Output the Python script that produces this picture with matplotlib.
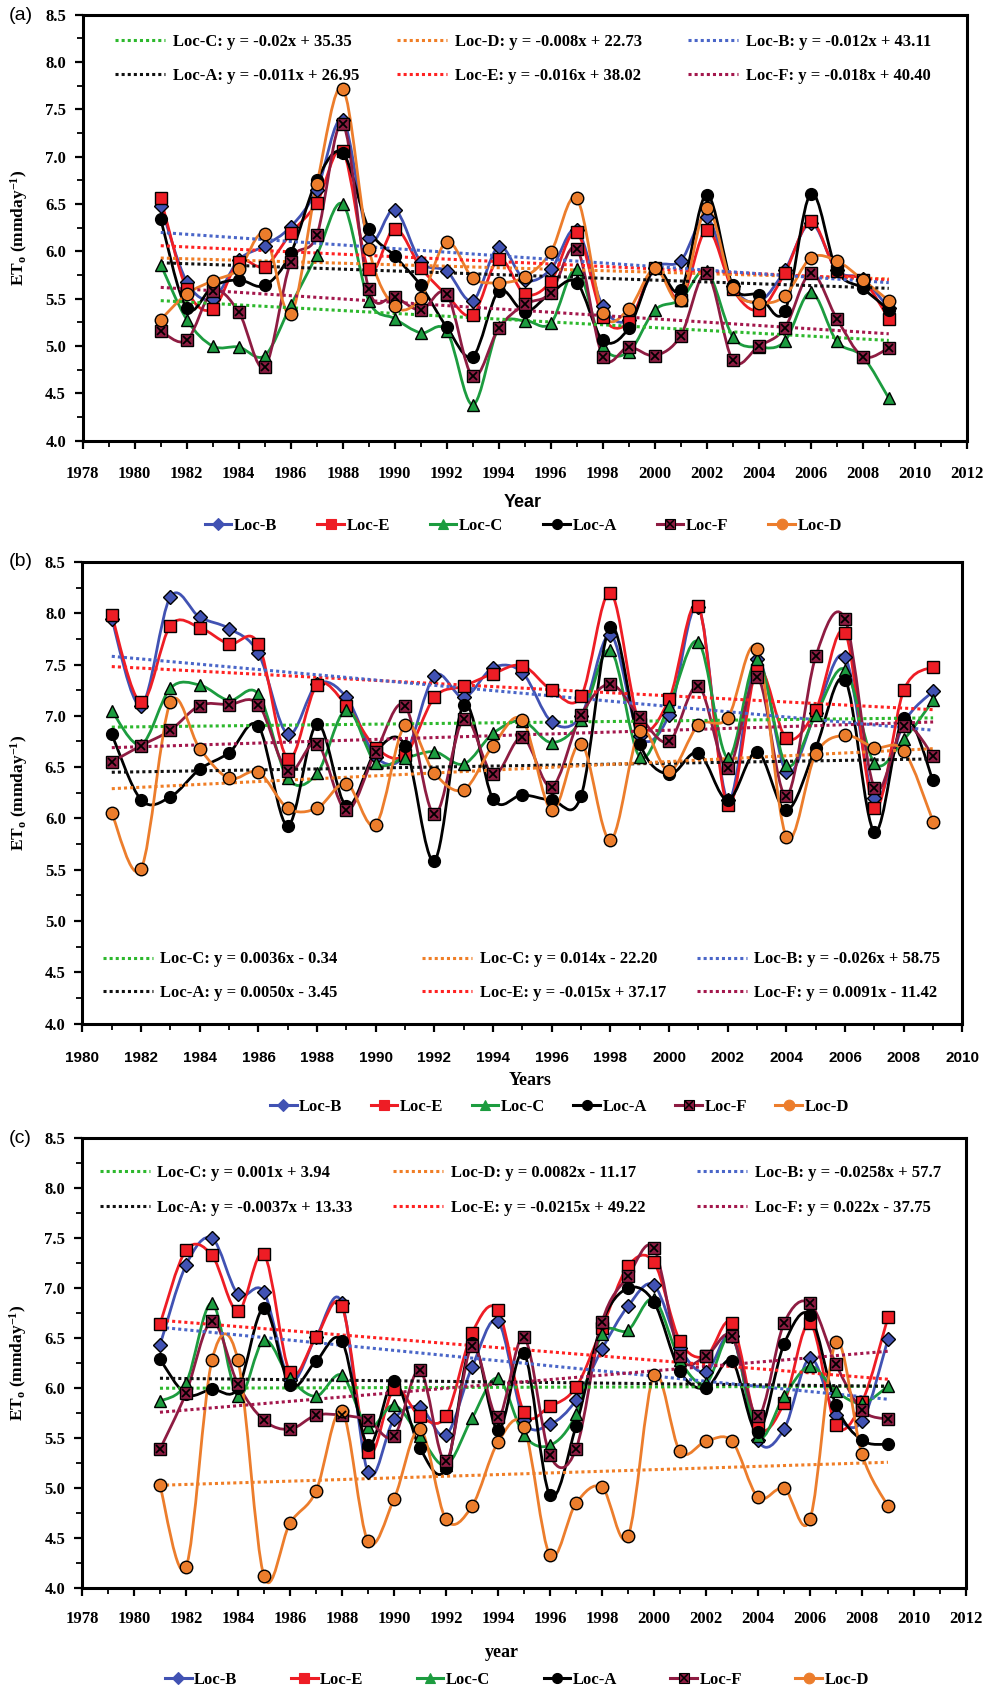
import numpy as np
import matplotlib
matplotlib.use('Agg')
import matplotlib.pyplot as plt
from matplotlib.path import Path
from matplotlib.patches import PathPatch
from matplotlib.lines import Line2D
from matplotlib.ticker import MultipleLocator, FormatStrFormatter

plt.rcParams['font.family'] = ['Liberation Serif', 'DejaVu Serif']
plt.rcParams['font.weight'] = 'bold'
plt.rcParams['axes.labelweight'] = 'bold'
plt.rcParams['mathtext.fontset'] = 'custom'
plt.rcParams['mathtext.rm'] = 'Liberation Serif:bold'
plt.rcParams['mathtext.it'] = 'Liberation Serif:bold'
plt.rcParams['mathtext.bf'] = 'Liberation Serif:bold'

years = list(range(1981, 2010))
locs = ['Loc-B', 'Loc-E', 'Loc-C', 'Loc-A', 'Loc-F', 'Loc-D']

# ---- panel (a) ----
a_B = [6.48, 5.68, 5.50, 5.91, 6.06, 6.26, 6.65, 7.39, 6.14, 6.44, 5.89, 5.79, 5.48, 6.05, 5.70,
       5.81, 6.23, 5.42, 5.28, 5.82, 5.90, 6.36, 5.63, 5.47, 5.80, 6.30, 5.80, 5.71, 5.40]
a_E = [6.56, 5.60, 5.39, 5.89, 5.84, 6.19, 6.51, 7.06, 5.81, 6.24, 5.83, 5.54, 5.33, 5.92, 5.55,
       5.68, 6.20, 5.31, 5.25, 5.82, 5.49, 6.23, 5.60, 5.38, 5.77, 6.32, 5.79, 5.70, 5.29]
a_C = [5.86, 5.28, 5.00, 4.99, 4.90, 5.43, 5.96, 6.50, 5.48, 5.29, 5.14, 5.16, 4.38, 5.20, 5.27,
       5.24, 5.81, 5.00, 4.94, 5.38, 5.49, 5.79, 5.10, 4.99, 5.05, 5.57, 5.05, 4.89, 4.45]
a_A = [6.34, 5.40, 5.63, 5.70, 5.64, 5.98, 6.75, 7.04, 6.24, 5.95, 5.64, 5.20, 4.89, 5.58, 5.36,
       5.56, 5.67, 5.06, 5.19, 5.82, 5.59, 6.60, 5.64, 5.54, 5.37, 6.61, 5.80, 5.61, 5.38]
a_F = [5.16, 5.06, 5.58, 5.36, 4.78, 5.89, 6.17, 7.35, 5.60, 5.52, 5.38, 5.55, 4.68, 5.19, 5.44,
       5.56, 6.03, 4.89, 4.99, 4.90, 5.11, 5.77, 4.85, 5.00, 5.19, 5.77, 5.29, 4.89, 4.98]
a_D = [5.28, 5.55, 5.69, 5.81, 6.18, 5.34, 6.71, 7.72, 6.03, 5.42, 5.51, 6.10, 5.72, 5.67, 5.73,
       5.99, 6.56, 5.35, 5.39, 5.82, 5.49, 6.46, 5.61, 5.46, 5.53, 5.93, 5.90, 5.70, 5.48]

# ---- panel (b) ----
b_B = [7.94, 7.10, 8.16, 7.96, 7.85, 7.61, 6.82, 7.31, 7.18, 6.60, 6.62, 7.39, 7.18, 7.47, 7.42,
       6.94, 7.00, 7.79, 6.80, 7.01, 8.06, 6.18, 7.55, 6.45, 7.03, 7.57, 6.20, 6.93, 7.24]
b_E = [7.98, 7.13, 7.88, 7.86, 7.70, 7.70, 6.58, 7.30, 7.10, 6.69, 6.62, 7.18, 7.29, 7.41, 7.49,
       7.25, 7.19, 8.20, 6.92, 7.16, 8.07, 6.13, 7.45, 6.78, 7.06, 7.81, 6.10, 7.25, 7.48]
b_C = [7.05, 6.72, 7.27, 7.30, 7.15, 7.21, 6.39, 6.44, 7.06, 6.54, 6.59, 6.65, 6.53, 6.83, 6.95,
       6.74, 6.96, 7.64, 6.60, 7.10, 7.72, 6.59, 7.55, 6.52, 7.01, 7.45, 6.54, 6.77, 7.15]
b_A = [6.82, 6.18, 6.21, 6.48, 6.64, 6.90, 5.93, 6.92, 6.12, 6.65, 6.71, 5.59, 7.11, 6.19, 6.23,
       6.18, 6.22, 7.87, 6.73, 6.43, 6.64, 6.18, 6.65, 6.08, 6.69, 7.35, 5.87, 6.98, 6.37]
b_F = [6.55, 6.71, 6.86, 7.10, 7.11, 7.11, 6.46, 6.73, 6.08, 6.65, 7.10, 6.04, 6.97, 6.43, 6.79,
       6.31, 7.01, 7.31, 6.99, 6.75, 7.29, 6.49, 7.38, 6.22, 7.58, 7.94, 6.30, 6.90, 6.61]
b_D = [6.05, 5.51, 7.13, 6.68, 6.39, 6.45, 6.10, 6.10, 6.34, 5.94, 6.91, 6.44, 6.28, 6.71, 6.96,
       6.08, 6.73, 5.79, 6.85, 6.46, 6.91, 6.98, 7.65, 5.82, 6.63, 6.81, 6.69, 6.66, 5.97]

# ---- panel (c) ----
c_B = [6.43, 7.23, 7.50, 6.94, 6.96, 6.08, 6.51, 6.85, 5.16, 5.69, 5.81, 5.53, 6.21, 6.67, 5.68,
       5.64, 5.88, 6.39, 6.82, 7.03, 6.40, 6.16, 6.52, 5.48, 5.59, 6.30, 5.73, 5.67, 6.49]
c_E = [6.64, 7.38, 7.33, 6.77, 7.34, 6.16, 6.51, 6.82, 5.36, 5.99, 5.72, 5.72, 6.55, 6.78, 5.76,
       5.82, 6.01, 6.60, 7.22, 7.26, 6.47, 6.32, 6.65, 5.62, 5.85, 6.65, 5.63, 5.86, 6.71]
c_C = [5.87, 6.05, 6.85, 5.92, 6.48, 6.10, 5.92, 6.13, 5.61, 5.83, 5.52, 5.23, 5.70, 6.10, 5.53,
       5.43, 5.74, 6.54, 6.58, 6.89, 6.28, 6.05, 6.52, 5.52, 5.92, 6.22, 5.97, 5.85, 6.02]
c_A = [6.29, 5.94, 5.99, 6.00, 6.80, 6.03, 6.27, 6.47, 5.43, 6.07, 5.40, 5.20, 6.45, 5.58, 6.35,
       4.93, 5.62, 6.65, 7.00, 6.86, 6.17, 6.00, 6.27, 5.56, 6.44, 6.73, 5.83, 5.48, 5.44]
c_F = [5.39, 5.95, 6.67, 6.04, 5.68, 5.59, 5.73, 5.73, 5.68, 5.52, 6.18, 5.27, 6.42, 5.71, 6.51,
       5.33, 5.39, 6.66, 7.12, 7.40, 6.32, 6.32, 6.52, 5.72, 6.65, 6.85, 6.24, 5.78, 5.69]
c_D = [5.03, 4.21, 6.28, 6.28, 4.12, 4.65, 4.97, 5.77, 4.47, 4.89, 5.59, 4.69, 4.82, 5.46, 5.61,
       4.33, 4.85, 5.01, 4.52, 6.13, 5.37, 5.47, 5.47, 4.91, 5.00, 4.69, 6.46, 5.34, 4.82]

# trend lines (1981 -> 2009), order: column by column as in the boxes
trend_keys = ['Loc-C', 'Loc-A', 'Loc-D', 'Loc-E', 'Loc-B', 'Loc-F']
a_trend_start = [5.48, 5.88, 5.93, 6.06, 6.20, 5.62]
a_trend_end = [5.06, 5.61, 5.71, 5.70, 5.67, 5.13]
a_eqs = ['Loc-C: y = -0.02x + 35.35', 'Loc-A: y = -0.011x + 26.95',
         'Loc-D: y = -0.008x + 22.73', 'Loc-E: y = -0.016x + 38.02',
         'Loc-B: y = -0.012x + 43.11', 'Loc-F: y = -0.018x + 40.40']
b_trend_start = [6.89, 6.45, 6.29, 7.48, 7.58, 6.69]
b_trend_end = [6.98, 6.58, 6.68, 7.06, 6.86, 6.94]
b_eqs = ['Loc-C: y = 0.0036x - 0.34', 'Loc-A: y = 0.0050x - 3.45',
         'Loc-C: y = 0.014x - 22.20', 'Loc-E: y = -0.015x + 37.17',
         'Loc-B: y = -0.026x + 58.75', 'Loc-F: y = 0.0091x - 11.42']
c_trend_start = [6.00, 6.10, 5.03, 6.68, 6.61, 5.76]
c_trend_end = [6.02, 6.02, 5.26, 6.09, 5.89, 6.37]
c_eqs = ['Loc-C: y = 0.001x + 3.94', 'Loc-A: y = -0.0037x + 13.33',
         'Loc-D: y = 0.0082x - 11.17', 'Loc-E: y = -0.0215x + 49.22',
         'Loc-B: y = -0.0258x + 57.7', 'Loc-F: y = 0.022x - 37.75']

line_col = {'Loc-B': '#4152B3', 'Loc-E': '#EE1D25', 'Loc-C': '#1C9C3F',
            'Loc-A': '#000000', 'Loc-F': '#8E1C42', 'Loc-D': '#EC7D2C'}
trend_col = {'Loc-B': '#4A66C8', 'Loc-E': '#FF2222', 'Loc-C': '#2DB82D',
             'Loc-A': '#111111', 'Loc-F': '#A3174C', 'Loc-D': '#F07E26'}
marker = {'Loc-B': ('D', 7), 'Loc-E': ('s', 8), 'Loc-C': ('^', 8.5),
          'Loc-A': ('o', 8.5), 'Loc-F': ('s', 8.5), 'Loc-D': ('o', 9)}


def smooth_path(x, y):
    # Excel-like smoothed line drawn as cubic Bezier segments through the points
    x = np.asarray(x, float)
    y = np.asarray(y, float)
    n = len(x)
    verts = [(x[0], y[0])]
    codes = [Path.MOVETO]
    for i in range(n - 1):
        j0 = max(i - 1, 0)
        j3 = min(i + 2, n - 1)
        c1 = (x[i] + (x[i + 1] - x[j0]) / 6, y[i] + (y[i + 1] - y[j0]) / 6)
        c2 = (x[i + 1] - (x[j3] - x[i]) / 6, y[i + 1] - (y[j3] - y[i]) / 6)
        verts += [c1, c2, (x[i + 1], y[i + 1])]
        codes += [Path.CURVE4] * 3
    return Path(verts, codes)


def draw_panel(ax, series, t_start, t_end, eqs, xlim, eq_cols, eq_y, eq_spacing,
               leg_xy, leg_colspace, xlabel, xlabel_xy, xlabel_family, tick_pad):
    handles = []
    for name, vals in zip(locs, series):
        col = line_col[name]
        ax.add_patch(PathPatch(smooth_path(years, vals), facecolor='none',
                               edgecolor=col, lw=2.0, zorder=2))
        m, ms = marker[name]
        ax.plot(years, vals, ls='none', marker=m, ms=ms, mfc=col, mec='black',
                mew=1.0, zorder=4)
        h = Line2D([], [], color=col, lw=2.2, marker=m, ms=ms * 0.85, mfc=col,
                   mec='black' if name == 'Loc-F' else col, mew=0.8)
        if name == 'Loc-F':
            ax.plot(years, vals, ls='none', marker='x', ms=ms * 0.7, mec='black',
                    mew=1.3, zorder=5)
            hx = Line2D([], [], ls='none', marker='x', ms=ms * 0.6, mec='black', mew=1.1)
            h = (h, hx)
        handles.append(h)

    trend_lines = []
    for key, s, e in zip(trend_keys, t_start, t_end):
        ln, = ax.plot([years[0], years[-1]], [s, e], ls=(0, (1, 1)),
                      color=trend_col[key], lw=2.2, zorder=3)
        trend_lines.append(ln)

    for k in range(3):
        leg = ax.legend(trend_lines[2 * k:2 * k + 2], eqs[2 * k:2 * k + 2],
                        loc='center left', bbox_to_anchor=(eq_cols[k], eq_y),
                        frameon=False, fontsize=12, handlelength=3.0,
                        handletextpad=0.45, borderpad=0, borderaxespad=0,
                        labelspacing=eq_spacing)
        ax.add_artist(leg)

    ax.legend(handles, locs, loc='center left', bbox_to_anchor=leg_xy, ncol=6,
              frameon=False, fontsize=12, handlelength=1.6, handletextpad=0.15,
              columnspacing=leg_colspace, borderpad=0, borderaxespad=0)

    ax.set_xlim(*xlim)
    ax.set_ylim(4.0, 8.5)
    ax.xaxis.set_major_locator(MultipleLocator(2))
    ax.xaxis.set_minor_locator(MultipleLocator(1))
    ax.yaxis.set_major_locator(MultipleLocator(0.5))
    ax.yaxis.set_minor_locator(MultipleLocator(0.25))
    ax.yaxis.set_major_formatter(FormatStrFormatter('%.1f'))
    ax.tick_params(which='major', direction='out', length=6, width=1.6,
                   labelsize=12, pad=6)
    ax.tick_params(axis='x', which='major', pad=tick_pad)
    ax.tick_params(which='minor', direction='out', length=4, width=1.3)
    for sp in ax.spines.values():
        sp.set_linewidth(2.2)
    ax.set_ylabel(r'ET$_\mathrm{o}$ (mmday$^{-1}$)', fontsize=12.5)
    ax.yaxis.set_label_coords(-0.06, 0.5)
    ax.set_xlabel(xlabel, fontsize=13, family=xlabel_family)
    ax.xaxis.set_label_coords(*xlabel_xy)


fig = plt.figure(figsize=(9.85, 16.92), dpi=100)

ax_a = fig.add_axes([0.084, 0.7395, 0.8975, 0.2518])
draw_panel(ax_a, [a_B, a_E, a_C, a_A, a_F, a_D], a_trend_start, a_trend_end, a_eqs,
           (1978, 2012), [0.037, 0.356, 0.685], 0.896, 1.05,
           (0.138, -0.200), 2.4, 'Year', (0.498, -0.124), 'Liberation Sans', 12)

ax_b = fig.add_axes([0.0837, 0.395, 0.8934, 0.2729])
draw_panel(ax_b, [b_B, b_E, b_C, b_A, b_F, b_D], b_trend_start, b_trend_end, b_eqs,
           (1980, 2010), [0.023, 0.386, 0.698], 0.103, 1.05,
           (0.213, -0.180), 1.7, 'Years', (0.509, -0.105), 'Liberation Serif', 14)
for lab in ax_b.get_xticklabels():
    lab.set_family('Liberation Sans')
    lab.set_fontsize(11)

ax_c = fig.add_axes([0.0832, 0.0613, 0.8975, 0.266])
draw_panel(ax_c, [c_B, c_E, c_C, c_A, c_F, c_D], c_trend_start, c_trend_end, c_eqs,
           (1978, 2012), [0.020, 0.352, 0.696], 0.884, 1.15,
           (0.094, -0.204), 3.2, 'year', (0.475, -0.124), 'Liberation Serif', 10)

for lbl, yy in [('(a)', 0.991), ('(b)', 0.668), ('(c)', 0.3274)]:
    fig.text(0.009, yy, lbl, family='Liberation Sans', weight='normal',
             fontsize=14, va='center', ha='left')

plt.savefig('out.png', dpi=100)
